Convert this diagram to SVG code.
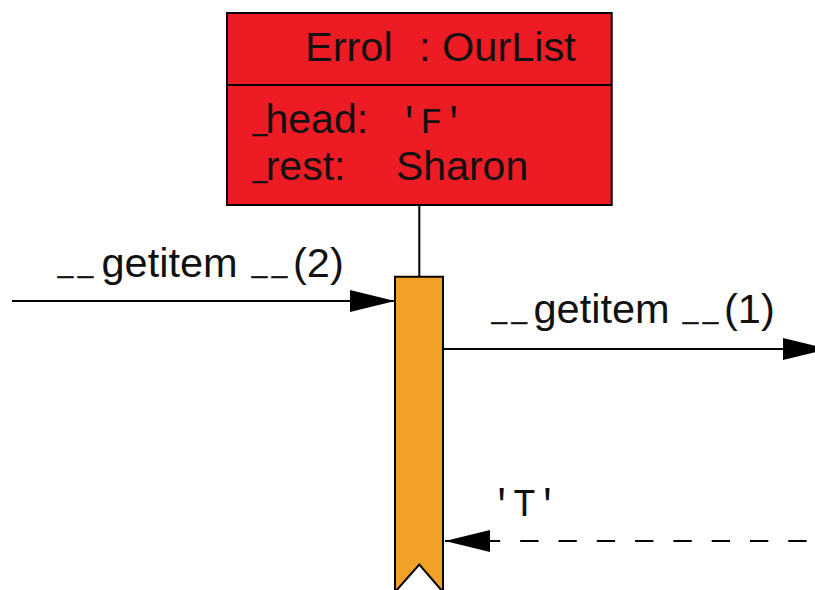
<svg xmlns="http://www.w3.org/2000/svg" width="815" height="590" viewBox="0 0 815 590">
  <style>
    .line { stroke: #000; stroke-width: 2; fill: none; }
    .obj { fill: #ED1C24; stroke: #000; stroke-width: 2; }
    .act { fill: #F0A126; stroke: #000; stroke-width: 2; }
    .lbl { font-family: "Liberation Sans", Arial, sans-serif; font-size: 41.5px; fill: #111; }
    .attr { font-size: 41px; }
    .mono { font-family: "Liberation Mono", "Courier New", monospace; fill: #111; }
    .us { font-size: 27px; letter-spacing: 5px; stroke: #111; stroke-width: 0.7px; }
    .us1 { font-size: 25px; stroke: #111; stroke-width: 0.7px; }
  </style>
  <defs>
    <marker id="head" markerUnits="userSpaceOnUse" markerWidth="46" markerHeight="24" refX="45" refY="11" orient="auto">
      <path d="M0,0 L45,11 L0,22 Z" fill="#000"/>
    </marker>
  </defs>

  <!-- object box with its lifeline and activation bar -->
  <g id="errol">
    <rect class="obj" x="227" y="13" width="384.7" height="192"/>
    <line class="line" x1="227" y1="85" x2="611.7" y2="85"/>
    <text class="lbl" x="305" y="61">Errol</text>
    <text class="lbl" x="419" y="61">: OurList</text>
    <text class="lbl attr"><tspan class="us1" x="253" y="131">_</tspan><tspan x="265.5" y="133">head:</tspan></text>
    <text class="mono" x="398" y="133" font-size="37">'F'</text>
    <text class="lbl attr"><tspan class="us1" x="253" y="178">_</tspan><tspan x="265.7" y="180">rest:</tspan></text>
    <text class="lbl attr" x="396" y="180">Sharon</text>
  </g>

  <g id="lifeline">
    <line class="line" x1="419.3" y1="205" x2="419.3" y2="276.7"/>
    <path class="act" d="M395,276.7 H443 V592 L419.3,564.5 L395,592 Z"/>
  </g>

  <!-- messages -->
  <g id="connectors">
    <line class="line" x1="12" y1="301" x2="395" y2="301" marker-end="url(#head)"/>
    <line class="line" x1="443" y1="349" x2="828" y2="349" marker-end="url(#head)"/>
    <line class="line" x1="815" y1="541" x2="445" y2="541" stroke-dasharray="18.3 20" stroke-dashoffset="29.9" marker-end="url(#head)"/>
  </g>

  <g id="labels">
    <text class="lbl"><tspan class="us" x="58" y="272">__</tspan><tspan x="101.5" y="277">getitem</tspan><tspan class="us" x="252" y="272">__</tspan><tspan x="293" y="277">(2)</tspan></text>
    <text class="lbl"><tspan class="us" x="491.7" y="318">__</tspan><tspan x="533.5" y="323">getitem</tspan><tspan class="us" x="683" y="318">__</tspan><tspan x="724" y="323">(1)</tspan></text>
    <text class="mono" x="490.3" y="516" font-size="38">'T'</text>
  </g>
</svg>
